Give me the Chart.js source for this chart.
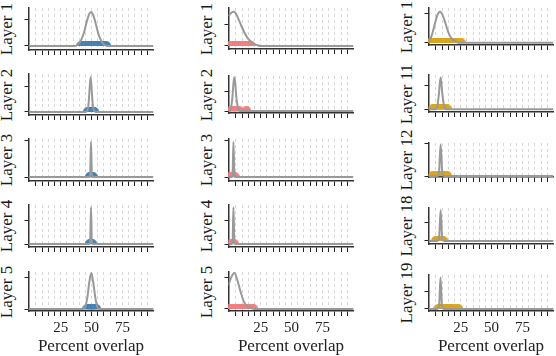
<!DOCTYPE html>
<html>
<head>
<meta charset="utf-8">
<script src="https://cdn.jsdelivr.net/npm/chart.js@4.4.0/dist/chart.umd.min.js"></script>
<style>
  html, body { margin: 0; padding: 0; background: #fff; }
  #fig { position: relative; width: 556px; height: 356px; overflow: hidden; }
  .panel { position: absolute; }
  .panel canvas { display: block; }
  .lab {
    position: absolute; white-space: nowrap; color: #1a1a1a;
    font-family: 'Liberation Serif', 'Times New Roman', serif; font-size: 17px; line-height: 17px;
    transform: translate(-50%, -50%) rotate(-90deg);
  }
</style>
</head>
<body>
<div id="fig"></div>
<script>
// --- données ---
const layerNames = [
  ['Layer 1', 'Layer 2', 'Layer 3', 'Layer 4', 'Layer 5'],
  ['Layer 1', 'Layer 2', 'Layer 3', 'Layer 4', 'Layer 5'],
  ['Layer 1', 'Layer 11', 'Layer 12', 'Layer 18', 'Layer 19'],
];
const xTicks = [5, 10, 15, 20, 25, 30, 35, 40, 45, 50, 55, 60, 65, 70, 75, 80, 85, 90, 95];
const xLabels = [25, 50, 75];
const yTicks = [0, 1]; // 2e graduation = unité des densités ci-dessous
const xRange = [-1, 100];

// points (percent overlap) de chaque couche
const blueDots = [
  [41.5, 43, 44.5, 45, 46, 46.5, 47, 47.5, 48, 48.5, 49, 49.5, 50, 50.5, 51, 51.5, 52, 53, 54, 55, 56.5, 58, 60, 61.7],
  [47, 48, 48.5, 49, 49.5, 50, 50.5, 51, 52],
  [48.6, 49.2, 49.8, 50.4, 51],
  [48.5, 49.5, 50.5],
  [46.4, 47.5, 48.5, 49, 49.5, 50, 50.5, 51, 52, 53, 53.6],
];
const pinkDots = [
  [-0.5, 0.5, 1.5, 2.5, 3.5, 4.5, 5.5, 6.5, 7.5, 8.5, 9.5, 10.5, 12, 13.5, 15, 16.8],
  [0, 1, 2, 3, 3.5, 4, 5, 6, 7.5, 13.5],
  [0, 1, 2, 3, 4],
  [0.5, 2, 3.5],
  [-0.5, 0.5, 1.5, 2.5, 3.5, 4.5, 5.5, 6.5, 8, 9.5, 11, 13, 15, 17, 19],
];
const goldDots = [
  [0, 1, 2, 3, 4, 5, 6, 7, 8, 9, 10, 11, 12, 13, 14, 15, 16, 17, 18, 19, 20, 22, 24, 25],
  [2.5, 4, 5.5, 6.5, 7.5, 8.5, 9.5, 10.5, 12, 14],
  [2.5, 4.5, 6.5, 8, 9.5, 11, 12.5, 14],
  [5, 7, 9, 11],
  [7, 8.5, 10, 12, 13, 14, 15, 16, 17, 18.5, 20, 23],
];

// courbes de densité (x, hauteur)
const blueCurveX = [
  [-1, 36, 39, 42, 44, 46, 48, 49.5, 51, 53, 55, 57, 60, 63, 100],
  [-1, 45, 46.5, 47.5, 48.3, 49.2, 50.1, 50.9, 52, 53.5, 100],
  [-1, 48, 48.8, 49.5, 50.2, 51, 100],
  [-1, 48, 48.8, 49.5, 50.2, 51, 100],
  [-1, 43, 45, 46.5, 48, 49.7, 51.4, 53, 54.5, 56.5, 100],
];
const blueCurveY = [
  [0, 0, 0.05, 0.26, 0.53, 0.89, 1.18, 1.26, 1.18, 0.89, 0.53, 0.26, 0.05, 0, 0],
  [0, 0, 0.05, 0.3, 0.85, 1.36, 0.85, 0.3, 0.05, 0, 0],
  [0, 0, 0.1, 0.97, 0.1, 0, 0],
  [0, 0, 0.1, 1.54, 0.1, 0, 0],
  [0, 0, 0.08, 0.35, 0.81, 1.125, 0.81, 0.35, 0.08, 0, 0],
];
const pinkCurveX = [
  [-1, 1, 3, 5, 8, 12, 15, 17.6, 20, 22.5, 25, 100],
  [-1, 0.5, 2, 3, 3.7, 4.5, 5.5, 7, 8.5, 100],
  [-1, 1.5, 2.3, 3, 3.7, 4.5, 100],
  [-1, 1.5, 2.3, 3, 3.7, 4.5, 100],
  [-1, 1, 3.7, 6, 9, 11, 13, 15, 17, 20, 100],
];
const pinkCurveY = [
  [1.36, 1.5, 1.56, 1.48, 1.1, 0.59, 0.32, 0.18, 0.08, 0.03, 0, 0],
  [0, 0.05, 0.6, 1.4, 1.75, 1.4, 0.6, 0.1, 0, 0],
  [0, 0, 0.1, 0.97, 0.1, 0, 0],
  [0, 0, 0.1, 1.54, 0.1, 0, 0],
  [0.77, 1.0, 1.16, 0.95, 0.52, 0.28, 0.13, 0.06, 0.03, 0, 0],
];
const goldCurveX = [
  [-1, 0, 2, 4, 6, 8.3, 10.5, 13, 15.5, 18, 20.5, 23, 100],
  [-1, 4.5, 6, 7.3, 8.8, 10.3, 11.8, 13.5, 100],
  [-1, 6, 7.5, 8.8, 10.1, 11.6, 100],
  [-1, 6, 7.5, 8.8, 10.1, 11.6, 100],
  [-1, 6, 7.5, 8.7, 9.9, 11.4, 100],
];
const goldCurveY = [
  [0.03, 0.08, 0.3, 0.62, 0.92, 1.05, 0.93, 0.62, 0.3, 0.12, 0.04, 0, 0],
  [0, 0, 0.1, 0.6, 1.37, 0.6, 0.1, 0, 0],
  [0, 0, 0.12, 0.97, 0.12, 0, 0],
  [0, 0, 0.12, 1.63, 0.12, 0, 0],
  [0, 0, 0.15, 1.83, 0.15, 0, 0],
];

// bornes de l'axe y de chaque panneau
const blueYRange = [[-0.15, 1.41], [-0.12, 1.48], [-0.11, 1.05], [-0.125, 1.63], [-0.06, 1.16]];
const pinkYRange = [[-0.14, 1.73], [-0.1, 1.81], [-0.11, 1.05], [-0.125, 1.63], [-0.065, 1.19]];
const goldYRange = [[-0.08, 1.18], [-0.12, 1.47], [-0.03, 1.01], [-0.16, 1.74], [-0.12, 1.97]];

// --- mise en page ---
const colLeft = [28.5, 228.5, 428.5];
const plotW = 125;
const rowTop = [[8, 74, 139, 205, 272], [8, 76, 139, 205, 272], [8, 75, 143, 208, 275]];
const rowBottom = [[50, 115, 181, 247, 311], [49, 113, 181, 247, 311], [45, 112, 177, 244, 311]];
const labelX = [6.3, 206.3, 406.3];
const serif = "'Liberation Serif', 'Times New Roman', serif";

const columns = [
  { dots: blueDots, cx: blueCurveX, cy: blueCurveY, yr: blueYRange, color: '#4682b4' },
  { dots: pinkDots, cx: pinkCurveX, cy: pinkCurveY, yr: pinkYRange, color: '#f08080' },
  { dots: goldDots, cx: goldCurveX, cy: goldCurveY, yr: goldYRange, color: '#daa520' },
];

// demi-disque (le bas est caché par la ligne zéro)
function halfDot(color, r) {
  const c = document.createElement('canvas');
  c.width = 2 * r; c.height = 2 * r;
  const g = c.getContext('2d');
  g.fillStyle = color;
  g.beginPath();
  g.arc(r, r, r, Math.PI, 2 * Math.PI);
  g.closePath();
  g.fill();
  return c;
}

const fig = document.getElementById('fig');

columns.forEach((col, c) => {
  const dotImg = halfDot(col.color, 5);
  layerNames[c].forEach((name, r) => {
    const top = rowTop[c][r], bottom = rowBottom[c][r];
    const last = r === 4;
    const left = Math.floor(colLeft[c] - 5);
    const yAxisW = colLeft[c] - left;
    const padT = 4, padR = 3;
    const xAxisH = last ? 356 - bottom : 7;
    const w = Math.ceil(yAxisW + plotW + padR);
    const h = padT + (bottom - top) + xAxisH;

    const box = document.createElement('div');
    box.className = 'panel';
    box.style.left = left + 'px';
    box.style.top = (top - padT) + 'px';
    const cv = document.createElement('canvas');
    cv.width = w; cv.height = h;
    cv.style.width = w + 'px'; cv.style.height = h + 'px';
    box.appendChild(cv);
    fig.appendChild(box);

    new Chart(cv, {
      type: 'line',
      data: {
        datasets: [
          {
            data: col.cx[r].map((x, i) => ({ x, y: col.cy[r][i] })),
            borderColor: '#999999', borderWidth: 2, pointRadius: 0,
            cubicInterpolationMode: 'monotone', fill: false, order: 0,
          },
          {
            data: col.dots[r].map(x => ({ x, y: 0 })),
            showLine: false, pointStyle: dotImg, pointRadius: 5, order: 1,
          },
        ]
      },
      options: {
        responsive: false, animation: false, devicePixelRatio: 1, events: [],
        layout: { padding: { left: 0, top: padT, right: w - yAxisW - plotW, bottom: 0 }, autoPadding: false },
        plugins: { legend: { display: false }, tooltip: { enabled: false } },
        scales: {
          x: {
            type: 'linear', min: xRange[0], max: xRange[1],
            afterBuildTicks: s => { s.ticks = xTicks.map(v => ({ value: v })); },
            afterFit: s => { s.height = xAxisH; },
            grid: { color: '#d6d6d6', lineWidth: 1, tickLength: 5, tickColor: '#222', tickWidth: 1, tickBorderDash: [] },
            border: { color: '#333', width: 1.5, dash: [3, 3] },
            ticks: {
              autoSkip: false, maxRotation: 0, padding: 3, color: '#222',
              font: { family: serif, size: 15 },
              callback: v => (last && xLabels.includes(v)) ? String(v) : '',
            },
            title: {
              display: last, text: 'Percent overlap', color: '#222',
              font: { family: serif, size: 17 }, padding: { top: 0, bottom: -1 },
            },
          },
          y: {
            min: col.yr[r][0], max: col.yr[r][1],
            afterBuildTicks: s => { s.ticks = yTicks.map(v => ({ value: v })); },
            afterFit: s => { s.width = yAxisW; },
            grid: { drawOnChartArea: false, tickLength: 4, tickColor: '#222' },
            border: { color: '#333', width: 1.5 },
            ticks: { display: false },
          },
        },
      },
    });

    const lab = document.createElement('div');
    lab.className = 'lab';
    lab.textContent = name;
    lab.style.left = labelX[c] + 'px';
    lab.style.top = ((top + bottom) / 2) + 'px';
    fig.appendChild(lab);
  });
});
</script>
</body>
</html>
